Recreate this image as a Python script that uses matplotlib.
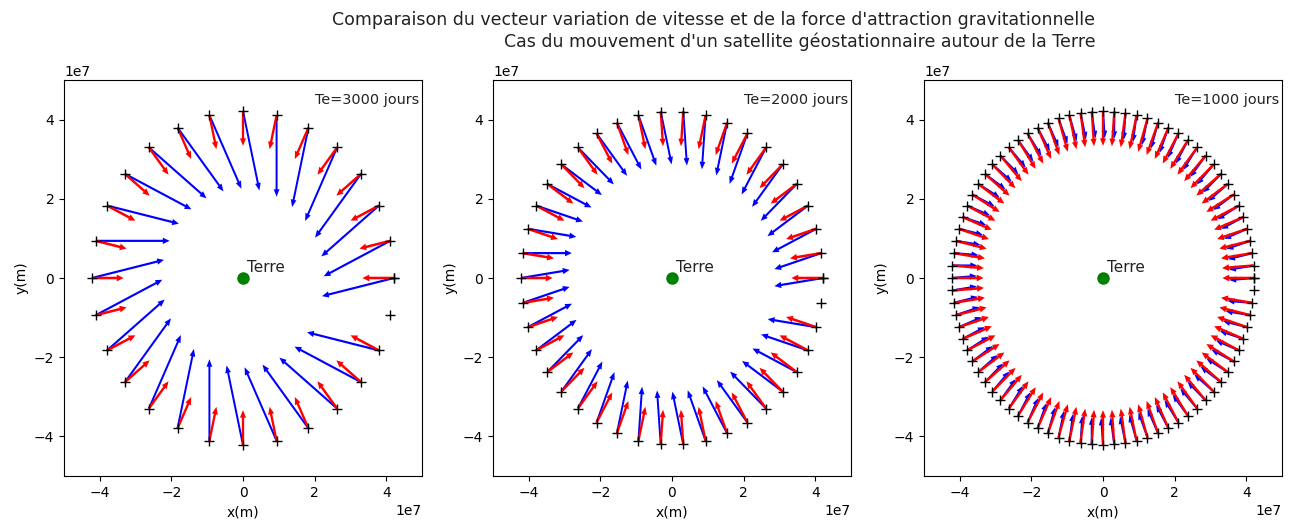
import numpy as np
import matplotlib
matplotlib.use("Agg")
import matplotlib.pyplot as plt

# parametres
te_jours = [3000, 2000, 1000]
n_pas = [28, 42, 84]            # nombre d'intervalles sur un tour
rayon_orbite = 4.216e7          # m
long_dv = [2.06e7, 1.37e7, 0.69e7]   # longueur affichee du vecteur variation de vitesse
long_force = 0.88e7                  # longueur affichee de la force
titre = ("Comparaison du vecteur variation de vitesse et de la force d'attraction gravitationnelle\n"
         "Cas du mouvement d'un satellite géostationnaire autour de la Terre")

fig = plt.figure(figsize=(12.91, 5.23), dpi=100)
lefts = [64, 493, 924]

for k in range(3):
    ax = fig.add_axes([lefts[k] / 1291, 47 / 523, 358 / 1291, 396 / 523])
    n = n_pas[k]
    theta = 2 * np.pi * np.arange(n + 1) / n
    x = rayon_orbite * np.cos(theta)
    y = rayon_orbite * np.sin(theta)

    for i in range(len(x) - 2):
        # variation de vitesse (differences finies)
        dvx = x[i + 2] - 2 * x[i + 1] + x[i]
        dvy = y[i + 2] - 2 * y[i + 1] + y[i]
        nv = np.hypot(dvx, dvy)
        ax.arrow(x[i], y[i], dvx / nv * long_dv[k], dvy / nv * long_dv[k], color='blue',
                 width=0.055e7, head_width=0.16e7, head_length=0.19e7,
                 length_includes_head=True, lw=0, zorder=2)
        r = np.hypot(x[i], y[i])
        ax.arrow(x[i], y[i], -x[i] / r * long_force, -y[i] / r * long_force, color='red',
                 width=0.065e7, head_width=0.17e7, head_length=0.19e7,
                 length_includes_head=True, lw=0, zorder=3)

    ax.plot(x, y, 'k+', ms=7, mew=1.0, zorder=4)
    ax.plot(0, 0, 'o', color='green', ms=8, zorder=4)
    ax.text(0.1e7, 0.15e7, 'Terre', fontsize=11, color='#222222')
    ax.text(2.0e7, 4.4e7, f'Te={te_jours[k]} jours', fontsize=10.4, color='#222222')
    ax.set_xlim(-5e7, 5e7)
    ax.set_ylim(-5e7, 5e7)
    ax.set_xticks([-4e7, -2e7, 0, 2e7, 4e7])
    ax.set_yticks([-4e7, -2e7, 0, 2e7, 4e7])
    ax.tick_params(labelsize=10)
    ax.xaxis.get_offset_text().set_fontsize(10)
    ax.yaxis.get_offset_text().set_fontsize(10)
    ax.set_xlabel('x(m)', fontsize=10)
    ax.set_ylabel('y(m)', fontsize=10)

fig.text(714 / 1291, 1 - 31 / 523, titre, ha='center', va='center', ma='right',
         fontsize=12.5, color='#222222')
fig.savefig('out.png', dpi=100)
